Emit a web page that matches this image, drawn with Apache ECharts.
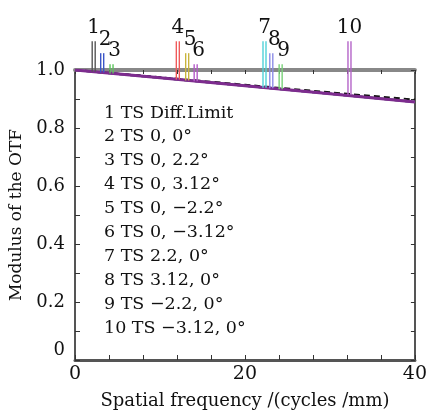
<!DOCTYPE html>
<html>
<head>
<meta charset="utf-8">
<script src="https://cdn.jsdelivr.net/npm/echarts@6/dist/echarts.min.js"></script>
<style>
html, body { margin: 0; padding: 0; background: #fff; }
#main { width: 430px; height: 415px; }
</style>
</head>
<body>
<div id="main"></div>
<script>
// spatial frequency samples (cycles/mm)
var freq = [0, 10, 20, 30, 40];
// MTF curves
var diffLimit = [1.0, 0.975, 0.949, 0.923, 0.898];
var fieldMtf = [1.0, 0.973, 0.946, 0.918, 0.890];

// curve marker tags: number, frequency, MTF at the tag, height of tag
var tagNames = ['1', '2', '3', '4', '5', '6', '7', '8', '9', '10'];
var tagFreq = [2.2, 3.2, 4.3, 12.1, 13.2, 14.2, 22.3, 23.1, 24.2, 32.3];
var tagBottom = [0.994, 0.991, 0.988, 0.967, 0.964, 0.961, 0.939, 0.937, 0.934, 0.915];
var tagTop = [1.099, 1.058, 1.02, 1.099, 1.058, 1.02, 1.099, 1.058, 1.02, 1.099];
var tagColors = ['#555555', '#3a55c8', '#5cc45c', '#f05a5a', '#c8b43c', '#b45ac8',
	'#50d2d8', '#8c8ce6', '#78d278', '#b464c8'];

var legendText = ['1 TS Diff.Limit', '2 TS 0, 0°', '3 TS 0, 2.2°', '4 TS 0, 3.12°',
	'5 TS 0, \u22122.2°', '6 TS 0, \u22123.12°', '7 TS 2.2, 0°', '8 TS 3.12, 0°',
	'9 TS \u22122.2, 0°', '10 TS \u22123.12, 0°'];

var xTicks = [0, 20, 40];
var yTicks = [0, 0.2, 0.4, 0.6, 0.8, 1.0];

var serif = 'DejaVu Serif';

var myChart = echarts.init(document.getElementById('main'));

function pairs(xs, ys) {
	var out = [];
	for (var i = 0; i < xs.length; i++) out.push([xs[i], ys[i]]);
	return out;
}

var series = [];
// field curves (all nearly on top of each other)
for (var k = 1; k < tagColors.length; k++) {
	series.push({
		type : 'line',
		data : pairs(freq, fieldMtf),
		symbol : 'none',
		lineStyle : { color : tagColors[k], width : 2 },
		z : 2
	});
}
series.push({
	type : 'line',
	data : pairs(freq, diffLimit),
	symbol : 'none',
	lineStyle : { color : '#111', width : 2, type : [6, 4] },
	z : 3
});
series.push({
	type : 'line',
	data : pairs(freq, fieldMtf),
	symbol : 'none',
	lineStyle : { color : '#7d2c8e', width : 3 },
	z : 4
});

var tagData = [];
for (var t = 0; t < tagNames.length; t++) {
	tagData.push([tagFreq[t], tagBottom[t], tagTop[t], t]);
}
series.push({
	type : 'custom',
	clip : false,
	z : 5,
	data : tagData,
	renderItem : function(params, api) {
		var idx = api.value(3);
		var b = api.coord([api.value(0), api.value(1)]);
		var tp = api.coord([api.value(0), api.value(2)]);
		var c = tagColors[idx];
		return {
			type : 'group',
			children : [ {
				type : 'line',
				shape : { x1 : b[0] - 1.5, y1 : b[1], x2 : tp[0] - 1.5, y2 : tp[1] },
				style : { stroke : c, lineWidth : 1.4 }
			}, {
				type : 'line',
				shape : { x1 : b[0] + 1.5, y1 : b[1], x2 : tp[0] + 1.5, y2 : tp[1] },
				style : { stroke : c, lineWidth : 1.4 }
			}, {
				type : 'text',
				x : tp[0] + (idx % 3 == 0 ? 0 : 3),
				y : tp[1] - 3,
				style : {
					text : tagNames[idx],
					font : '20px "' + serif + '"',
					fill : '#111',
					align : 'center',
					verticalAlign : 'bottom'
				}
			} ]
		};
	}
});

var legendItems = [];
for (var n = 0; n < legendText.length; n++) {
	legendItems.push({
		type : 'text',
		left : 104,
		top : 104 + n * 23.9,
		style : {
			text : legendText[n],
			font : '17.5px "' + serif + '"',
			fill : '#111'
		}
	});
}

var option = {
	animation : false,
	backgroundColor : '#fff',
	grid : { left : 73, right : 11, top : 70, bottom : 53 },
	xAxis : [ {
		type : 'value',
		min : 0, max : 40, interval : 4,
		name : 'Spatial frequency /(cycles /mm)',
		nameLocation : 'middle',
		nameGap : 32,
		nameTextStyle : { fontFamily : serif, fontSize : 18, color : '#111' },
		axisLine : { show : true, onZero : false, lineStyle : { color : '#555', width : 3 } },
		axisTick : { show : true, inside : true, length : 5, lineStyle : { color : '#333', width : 1 } },
		axisLabel : {
			fontFamily : serif, fontSize : 19, color : '#111', margin : 5,
			formatter : function(v) { return xTicks.indexOf(v) >= 0 ? String(v) : ''; }
		},
		splitLine : { show : false }
	}, {
		type : 'value',
		position : 'top',
		min : 0, max : 40, interval : 4,
		axisLine : { show : true, onZero : false, lineStyle : { color : '#888', width : 4 } },
		axisTick : { show : true, inside : true, length : 4, lineStyle : { color : '#333' } },
		axisLabel : { show : false },
		splitLine : { show : false }
	} ],
	yAxis : [ {
		type : 'value',
		min : 0, max : 1, interval : 0.1,
		name : 'Modulus of the OTF',
		nameLocation : 'middle',
		nameGap : 50,
		nameTextStyle : { fontFamily : serif, fontSize : 17, color : '#111' },
		axisLine : { show : true, onZero : false, lineStyle : { color : '#555', width : 2 } },
		axisTick : { show : true, inside : true, length : 5, lineStyle : { color : '#333' } },
		axisLabel : {
			fontFamily : serif, fontSize : 18, color : '#111', margin : 10,
			formatter : function(v) {
				var r = Math.round(v * 10) / 10;
				if (r === 0) return '{z|0}';
				for (var i = 0; i < yTicks.length; i++) {
					if (Math.abs(yTicks[i] - r) < 1e-6) return r.toFixed(1);
				}
				return '';
			},
			rich : {
				z : { fontFamily : serif, fontSize : 18, color : '#111', padding : [0, 0, 20, 0] }
			}
		},
		splitLine : { show : false }
	}, {
		type : 'value',
		position : 'right',
		min : 0, max : 1, interval : 0.1,
		axisLine : { show : true, onZero : false, lineStyle : { color : '#555', width : 2 } },
		axisTick : { show : true, inside : true, length : 4, lineStyle : { color : '#333' } },
		axisLabel : { show : false },
		splitLine : { show : false }
	} ],
	graphic : legendItems,
	series : series
};

myChart.setOption(option);
</script>
</body>
</html>
